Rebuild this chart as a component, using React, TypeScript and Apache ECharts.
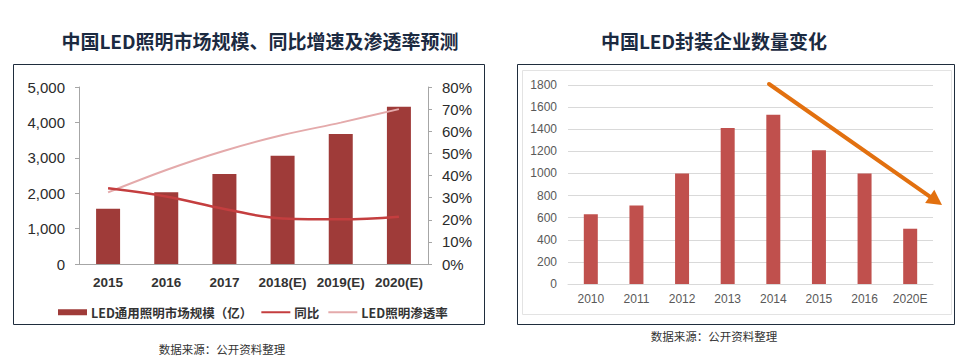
import React, { useEffect, useRef } from "react";
import * as echarts from "echarts";

const leftTitle = "中国LED照明市场规模、同比增速及渗透率预测";
const rightTitle = "中国LED封装企业数量变化";
const sourceText = "数据来源：公开资料整理";

const leftCategories = ["2015", "2016", "2017", "2018(E)", "2019(E)", "2020(E)"];
const marketSize = [1560, 2030, 2540, 3060, 3670, 4440];
const yoyGrowth = [34.2, 30.5, 24.9, 20.6, 20.2, 21.4];
const penetration = [32.4, 42.5, 51.2, 58.3, 63.9, 70.0];
const leftSeriesNames = ["LED通用照明市场规模（亿）", "同比", "LED照明渗透率"];

const rightCategories = ["2010", "2011", "2012", "2013", "2014", "2015", "2016", "2020E"];
const companyCounts = [630, 710, 1000, 1410, 1530, 1210, 1000, 500];

const CJK = '"Noto Sans CJK SC", "Noto Sans", sans-serif';
const LAT = '"Liberation Sans", "Noto Sans CJK SC", sans-serif';

export default function App() {
  const ref = useRef<HTMLDivElement>(null);
  useEffect(() => {
    document.body.style.margin = "0";
    const chart = echarts.init(ref.current!, undefined, { renderer: "svg" });
    // arrow geometry (annotation)
    const tip = [942, 205];
    const start = [769, 84];
    const dx = tip[0] - start[0];
    const dy = tip[1] - start[1];
    const len = Math.sqrt(dx * dx + dy * dy);
    const ux = dx / len;
    const uy = dy / len;
    const headL = 15;
    const headW = 8;
    const bx = tip[0] - ux * headL;
    const by = tip[1] - uy * headL;
    chart.setOption({
      animation: false,
      backgroundColor: "#ffffff",
      textStyle: { fontFamily: LAT },
      graphic: [
        {
          type: "rect",
          shape: { x: 13.5, y: 64.5, width: 471, height: 260 },
          style: { fill: "none", stroke: "#1f2d3d", lineWidth: 1 },
          z: 0,
        },
        {
          type: "rect",
          shape: { x: 517.5, y: 64.5, width: 437, height: 260 },
          style: { fill: "none", stroke: "#1f2d3d", lineWidth: 1 },
          z: 0,
        },
        {
          type: "rect",
          shape: { x: 522.5, y: 70.5, width: 429, height: 244 },
          style: { fill: "none", stroke: "#e3e3e3", lineWidth: 1 },
          z: 0,
        },
        {
          type: "text",
          x: 260,
          y: 40,
          style: {
            text: leftTitle,
            fill: "#1b2a41",
            font: `bold 19px ${CJK}`,
            textAlign: "center",
            textVerticalAlign: "middle",
          },
        },
        {
          type: "text",
          x: 714,
          y: 40,
          style: {
            text: rightTitle,
            fill: "#1b2a41",
            font: `bold 19px ${CJK}`,
            textAlign: "center",
            textVerticalAlign: "middle",
          },
        },
        {
          type: "text",
          x: 222,
          y: 349,
          style: {
            text: sourceText,
            fill: "#333333",
            font: `11.5px ${CJK}`,
            textAlign: "center",
            textVerticalAlign: "middle",
          },
        },
        {
          type: "text",
          x: 714,
          y: 336,
          style: {
            text: sourceText,
            fill: "#333333",
            font: `11.5px ${CJK}`,
            textAlign: "center",
            textVerticalAlign: "middle",
          },
        },
        {
          type: "line",
          shape: { x1: start[0], y1: start[1], x2: bx + ux * 2, y2: by + uy * 2 },
          style: { stroke: "#e2700f", lineWidth: 4, lineCap: "round" },
          z: 10,
        },
        {
          type: "polygon",
          shape: {
            points: [
              [tip[0], tip[1]],
              [bx - uy * headW, by + ux * headW],
              [bx + uy * headW, by - ux * headW],
            ],
          },
          style: { fill: "#e2700f" },
          z: 10,
        },
      ],
      legend: {
        left: 53,
        top: 301,
        itemGap: 8,
        itemWidth: 29,
        itemHeight: 6,
        textStyle: { fontFamily: CJK, fontSize: 12.5, fontWeight: "bold", color: "#333333", padding: [0, 0, 0, -1] },
        data: [
          { name: leftSeriesNames[0], icon: "rect" },
          { name: leftSeriesNames[1], itemStyle: { opacity: 0 } },
          { name: leftSeriesNames[2], itemStyle: { opacity: 0 } },
        ],
      },
      grid: [
        { left: 79, right: 542, top: 87, bottom: 94 },
        { left: 568, right: 37, top: 85, bottom: 74 },
      ],
      xAxis: [
        {
          type: "category",
          gridIndex: 0,
          data: leftCategories,
          axisLine: { lineStyle: { color: "#a6a6a6", width: 1 } },
          axisTick: { show: false },
          axisLabel: { color: "#333333", fontSize: 13.5, fontWeight: "bold", margin: 12, fontFamily: LAT, interval: 0 },
        },
        {
          type: "category",
          gridIndex: 1,
          data: rightCategories,
          axisLine: { lineStyle: { color: "#d9d9d9", width: 1 } },
          axisTick: { show: false },
          axisLabel: { color: "#595959", fontSize: 12, margin: 9, fontFamily: LAT, interval: 0 },
        },
      ],
      yAxis: [
        {
          type: "value",
          gridIndex: 0,
          min: 0,
          max: 5000,
          interval: 1000,
          axisLine: { show: true, lineStyle: { color: "#a6a6a6" } },
          axisTick: { show: true, length: 4, lineStyle: { color: "#a6a6a6" } },
          splitLine: { show: false },
          axisLabel: {
            color: "#2b2b2b",
            fontSize: 15,
            margin: 14,
            fontFamily: LAT,
            formatter: (v: number) => v.toLocaleString("en-US"),
          },
        },
        {
          type: "value",
          gridIndex: 0,
          position: "right",
          min: 0,
          max: 80,
          interval: 10,
          axisLine: { show: true, lineStyle: { color: "#a6a6a6" } },
          axisTick: { show: true, length: 4, lineStyle: { color: "#a6a6a6" } },
          splitLine: { show: false },
          axisLabel: { color: "#2b2b2b", fontSize: 15, margin: 14, fontFamily: LAT, formatter: "{value}%" },
        },
        {
          type: "value",
          gridIndex: 1,
          min: 0,
          max: 1800,
          interval: 200,
          axisLine: { show: false },
          axisTick: { show: false },
          splitLine: { lineStyle: { color: "#d9d9d9", width: 1 } },
          axisLabel: {
            color: "#595959",
            fontSize: 12,
            margin: 11,
            fontFamily: LAT,
            formatter: (v: number) => String(v),
          },
        },
      ],
      series: [
        {
          name: leftSeriesNames[0],
          type: "bar",
          xAxisIndex: 0,
          yAxisIndex: 0,
          data: marketSize,
          barWidth: 24,
          itemStyle: { color: "#9f3b39" },
        },
        {
          name: leftSeriesNames[1],
          type: "line",
          xAxisIndex: 0,
          yAxisIndex: 1,
          data: yoyGrowth,
          smooth: 0.4,
          symbol: "none",
          lineStyle: { color: "#c43e3f", width: 2.5 },
          itemStyle: { color: "#c43e3f" },
          z: 5,
        },
        {
          name: leftSeriesNames[2],
          type: "line",
          xAxisIndex: 0,
          yAxisIndex: 1,
          data: penetration,
          smooth: 0.3,
          symbol: "none",
          lineStyle: { color: "#e4aaab", width: 2 },
          itemStyle: { color: "#e4aaab" },
          z: 4,
        },
        {
          name: "企业数量",
          type: "bar",
          xAxisIndex: 1,
          yAxisIndex: 2,
          data: companyCounts,
          barWidth: 14,
          itemStyle: { color: "#c0504d" },
        },
      ],
    });
    return () => chart.dispose();
  }, []);
  return (
    <div
      ref={ref}
      style={{ position: "absolute", left: 0, top: 0, width: 970, height: 358 }}
    />
  );
}
